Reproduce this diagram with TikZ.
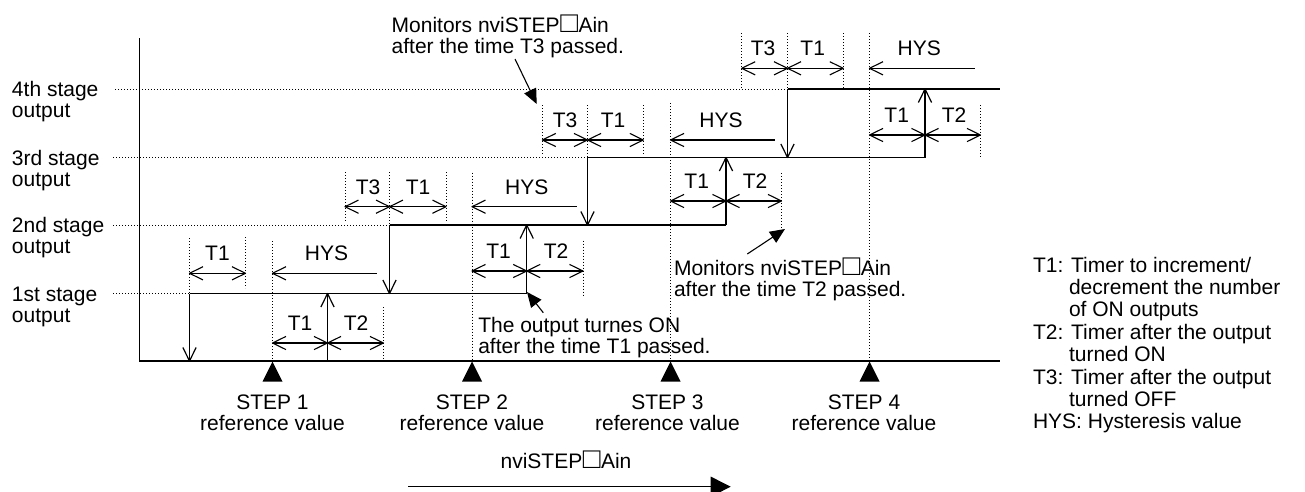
\documentclass[tikz,border=0pt]{standalone}
\usepackage{fontspec}
\usepackage{graphicx}
\setmainfont{Liberation Sans}
\usetikzlibrary{arrows.meta}
\newcommand\ltwo[2]{\vtop{\hbox{#1}\hbox{#2}}}
\newcommand\ctwo[2]{\vtop{\halign{\hfil##\hfil\cr#1\cr#2\cr}}}
\newcommand\wsq{\kern0.5pt\scalebox{1.4}{□}\kern0.5pt}
\pgfdeclarearrow{
  name = OpenBarb,
  setup code = {
    \pgfarrowssettipend{0pt}
    \pgfarrowssetlineend{-0.3pt}
    \pgfarrowssetbackend{-13.5pt}
    \pgfarrowshullpoint{0pt}{0pt}
    \pgfarrowsupperhullpoint{-13.5pt}{6.6pt}
  },
  drawing code = {
    \pgfsetdash{}{0pt}
    \pgfsetbuttcap
    \pgfsetroundjoin
    \pgfpathmoveto{\pgfqpoint{-13.5pt}{6.6pt}}
    \pgfpathlineto{\pgfqpoint{0pt}{0pt}}
    \pgfpathlineto{\pgfqpoint{-13.5pt}{-6.6pt}}
    \pgfusepathqstroke
  }
}
\begin{document}
\begin{tikzpicture}[x=1pt,y=-1pt,
  every node/.style={inner sep=0pt, outer sep=0pt, font=\fontsize{21}{21}\selectfont},
  mainln/.style={line width=1.2pt, line cap=butt},
  dotln/.style={line width=0.9pt, dash pattern=on 0.9pt off 2.1pt},
  dimarr/.style={line width=1.1pt, OpenBarb-OpenBarb},
  hysarr/.style={line width=1.1pt, OpenBarb-},
  vertarr/.style={mainln, -OpenBarb},
  callout/.style={line width=1.1pt, -{Triangle[length=15pt,width=13pt]}},
  bigarr/.style={line width=1.3pt, -{Triangle[length=20pt,width=20pt]}},
  lab/.style={anchor=base},
  ltxt/.style={anchor=base west}
]
\path[use as bounding box] (0,0) rectangle (1305,491);

% ---- coordinates ----
\coordinate (ax0) at (139.5,38);
\coordinate (ax1) at (139.5,361);
\coordinate (ax2) at (1000,361);
% staircase
\coordinate (d1t) at (189.5,293.5); \coordinate (d1b) at (189.5,361);
\coordinate (u1b) at (327.5,361);   \coordinate (u1t) at (327.5,293.5);
\coordinate (d2t) at (389.5,225);   \coordinate (d2b) at (389.5,293.5);
\coordinate (u2b) at (526.7,293.5); \coordinate (u2t) at (526.7,225);
\coordinate (d3t) at (587.5,157.5); \coordinate (d3b) at (587.5,225);
\coordinate (u3b) at (726,225);     \coordinate (u3t) at (726,157.5);
\coordinate (d4t) at (787.5,89);    \coordinate (d4b) at (787.5,157.5);
\coordinate (u4b) at (925,157.5);   \coordinate (u4t) at (925,89);
\coordinate (e4) at (1000,89);

% ---- stage labels ----
\node[ltxt] (lab4) at (12,96) {\ltwo{4th stage}{output}};
\node[ltxt] (lab3) at (12,165) {\ltwo{3rd stage}{output}};
\node[ltxt] (lab2) at (12,232.5) {\ltwo{2nd stage}{output}};
\node[ltxt] (lab1) at (12,301) {\ltwo{1st stage}{output}};

% ---- dotted stage lines ----
\coordinate (g4) at (115,89);  \coordinate (g3) at (113,157.5);
\coordinate (g2) at (113,225); \coordinate (g1) at (113,293.5);
\draw[dotln] (g4) -- (d4t);
\draw[dotln] (g3) -- (d3t);
\draw[dotln] (g2) -- (d2t);
\draw[dotln] (g1) -- (d1t);

% ---- dotted extension lines ----
\draw[dotln] (189.5,238) -- (d1t);
\draw[dotln] (245.5,237) -- (245.5,288);
\draw[dotln] (272.5,241) -- (272.5,361);
\draw[dotln] (383.5,307) -- (383.5,361);
\draw[dotln] (472,172.7) -- (472,361);
\draw[dotln] (583,240.7) -- (583,295);
\draw[dotln] (345,172) -- (345,222);
\draw[dotln] (389.5,172) -- (d2t);
\draw[dotln] (446,172) -- (446,222);
\draw[dotln] (670.5,103.3) -- (670.5,361);
\draw[dotln] (781.5,173) -- (781.5,228);
\draw[dotln] (542.3,105) -- (542.3,155);
\draw[dotln] (587.5,105) -- (d3t);
\draw[dotln] (643.3,105) -- (643.3,155);
\draw[dotln] (869.5,33) -- (869.5,361);
\draw[dotln] (980.5,105) -- (980.5,158);
\draw[dotln] (741.7,33) -- (741.7,88);
\draw[dotln] (787.5,33) -- (d4t);
\draw[dotln] (843.3,33) -- (843.3,88);

% ---- axes ----
\draw[mainln] (ax0) -- (ax1) -- (ax2);

% ---- staircase ----
\draw[mainln] (d1t) -- (u2b);
\draw[mainln] (d2t) -- (u3b);
\draw[mainln] (d3t) -- (u4b);
\draw[mainln] (d4t) -- (e4);
\draw[vertarr] (d1t) -- (d1b);
\draw[vertarr] (u1b) -- (u1t);
\draw[vertarr] (d2t) -- (d2b);
\draw[vertarr] (u2b) -- (u2t);
\draw[vertarr] (d3t) -- (d3b);
\draw[vertarr] (u3b) -- (u3t);
\draw[vertarr] (d4t) -- (d4b);
\draw[vertarr] (u4b) -- (u4t);

% ---- dimension arrows ----
\draw[dimarr] (272.5,343) -- (327.5,343);
\draw[dimarr] (327.5,343) -- (383.5,343);
\node[lab] (r0a) at (300,330.5) {T1};
\node[lab] (r0b) at (356,330.5) {T2};

\draw[dimarr] (189.5,273.3) -- (245.5,273.3);
\draw[hysarr] (272.5,273.3) -- (377,273.3);
\node[lab] (r1a) at (217.5,260.8) {T1};
\node[lab] (r1b) at (326.5,260.8) {HYS};

\draw[dimarr] (472,271) -- (526.7,271);
\draw[dimarr] (526.7,271) -- (583,271);
\node[lab] (r1c) at (498.5,258.5) {T1};
\node[lab] (r1d) at (556,258.5) {T2};

\draw[dimarr] (345,206.7) -- (389.5,206.7);
\draw[dimarr] (389.5,206.7) -- (446,206.7);
\draw[hysarr] (472,206.7) -- (577.3,206.7);
\node[lab] (r2a) at (368,194.2) {T3};
\node[lab] (r2b) at (418,194.2) {T1};
\node[lab] (r2c) at (526.7,194.2) {HYS};

\draw[dimarr] (670.5,201) -- (726,201);
\draw[dimarr] (726,201) -- (781.5,201);
\node[lab] (r2d) at (696.7,188.5) {T1};
\node[lab] (r2e) at (755,188.5) {T2};

\draw[dimarr] (542.3,140) -- (587.5,140);
\draw[dimarr] (587.5,140) -- (643.3,140);
\draw[hysarr] (670.5,140) -- (775,140);
\node[lab] (r3a) at (565,127.5) {T3};
\node[lab] (r3b) at (613,127.5) {T1};
\node[lab] (r3c) at (721,127.5) {HYS};

\draw[dimarr] (869.5,135) -- (925,135);
\draw[dimarr] (925,135) -- (980.5,135);
\node[lab] (r3d) at (896.7,122.5) {T1};
\node[lab] (r3e) at (954,122.5) {T2};

\draw[dimarr] (741.7,68.3) -- (787.5,68.3);
\draw[dimarr] (787.5,68.3) -- (843.3,68.3);
\draw[hysarr] (869.5,68.3) -- (975,68.3);
\node[lab] (r4a) at (763,55.8) {T3};
\node[lab] (r4b) at (812.7,55.8) {T1};
\node[lab] (r4c) at (919.3,55.8) {HYS};

% ---- callouts ----
\node[ltxt] (c3) at (391.7,32.3) {\ltwo{Monitors nviSTEP\wsq Ain}{after the time T3 passed.}};
\coordinate (c3a) at (515,59); \coordinate (c3b) at (536.7,104);
\draw[callout] (c3a) -- (c3b);

\node[ltxt] (c1) at (478.3,332.7) {\ltwo{The output turnes ON}{after the time T1 passed.}};
\coordinate (c1a) at (543.3,312.7); \coordinate (c1b) at (527,292);
\draw[callout] (c1a) -- (c1b);

\node[ltxt] (c2) at (674,275) {\ltwo{Monitors nviSTEP\wsq Ain}{after the time T2 passed.}};
\coordinate (c2a) at (747.3,254); \coordinate (c2b) at (785,229);
\draw[callout] (c2a) -- (c2b);

% ---- step markers ----
\foreach \sx in {272.5,472,670.5,869.5}
  \fill (\sx,361.5) -- (\sx+10,381.5) -- (\sx-10,381.5) -- cycle;
\node[lab] (s1) at (272.5,409) {\ctwo{STEP 1}{reference value}};
\node[lab] (s2) at (472,409) {\ctwo{STEP 2}{reference value}};
\node[lab] (s3) at (667.5,409) {\ctwo{STEP 3}{reference value}};
\node[lab] (s4) at (864,409) {\ctwo{STEP 4}{reference value}};

% ---- input arrow ----
\node[lab] (inp) at (566,468.3) {nviSTEP\wsq Ain};
\coordinate (ia) at (408.3,486.7); \coordinate (ib) at (730.7,486.7);
\draw[bigarr] (ia) -- (ib);

% ---- legend ----
\node[ltxt] (leg) at (1033,272) {\vtop{\baselineskip=22.4pt
  \hbox{T1: Timer to increment/}
  \hbox{\hspace*{36pt}decrement the number}
  \hbox{\hspace*{36pt}of ON outputs}
  \hbox{T2: Timer after the output}
  \hbox{\hspace*{36pt}turned ON}
  \hbox{T3: Timer after the output}
  \hbox{\hspace*{36pt}turned OFF}
  \hbox{HYS: Hysteresis value}}};
\end{tikzpicture}
\end{document}
